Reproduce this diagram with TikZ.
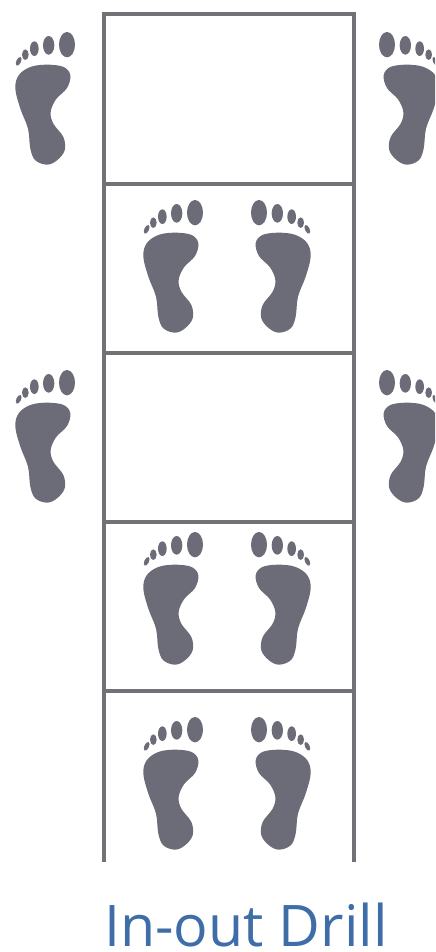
\documentclass[tikz,border=0pt]{standalone}
\usepackage{fontspec}
\setmainfont{Open Sans}
\usepackage{xcolor}
\definecolor{linegray}{HTML}{727276}
\definecolor{footgray}{HTML}{6C6C78}
\definecolor{titleblue}{HTML}{3E6DA8}
\tikzset{
  foot/.pic={
    \fill[footgray,scale=1/3] plot[smooth cycle,tension=0.6] coordinates {
      (165,158) (215,165) (235,190) (225,228) (192,262) (176,300) (184,335)
      (214,375) (218,415) (195,445) (165,458) (130,445) (115,410) (108,350)
      (85,290) (70,230) (80,190) (115,165)};
    \fill[footgray,scale=1/3] (225,98) ellipse (24 and 38);
    \fill[footgray,scale=1/3] (170,100) ellipse (17 and 28);
    \fill[footgray,scale=1/3] (127,110) ellipse (13 and 22);
    \fill[footgray,scale=1/3] (100,128) ellipse (10 and 16);
    \fill[footgray,scale=1/3,rotate around={-25:(80,148)}] (80,148) ellipse (7 and 14);
  },
  rail/.style={linegray,line width=2.6pt}
}
\begin{document}
\begin{tikzpicture}[x=0.75pt,y=-0.75pt]
  \useasboundingbox (0,0) rectangle (435,952);
  \clip (0,0) rectangle (435,952);
  \coordinate (tl) at (104,14); \coordinate (tr) at (354,14);
  \coordinate (bl) at (104,862); \coordinate (br) at (354,862);
  \draw[rail] (bl) -- (tl) -- (tr) -- (br);
  \foreach \y in {184,353,522,691}
    \draw[rail] (104,\y) -- (354,\y);
  \foreach \y in {180,512,697} {
    \pic at (120,\y) {foot};
    \pic[xscale=-1] at (334,\y) {foot};
  }
  \foreach \y in {12,350} {
    \pic at (-8,\y) {foot};
    \pic[xscale=-1] at (462,\y) {foot};
  }
  \node[titleblue,font=\fontsize{43}{43}\selectfont,anchor=base west,inner sep=0pt] (title) at (104,946) {In-out Drill};
\end{tikzpicture}
\end{document}
